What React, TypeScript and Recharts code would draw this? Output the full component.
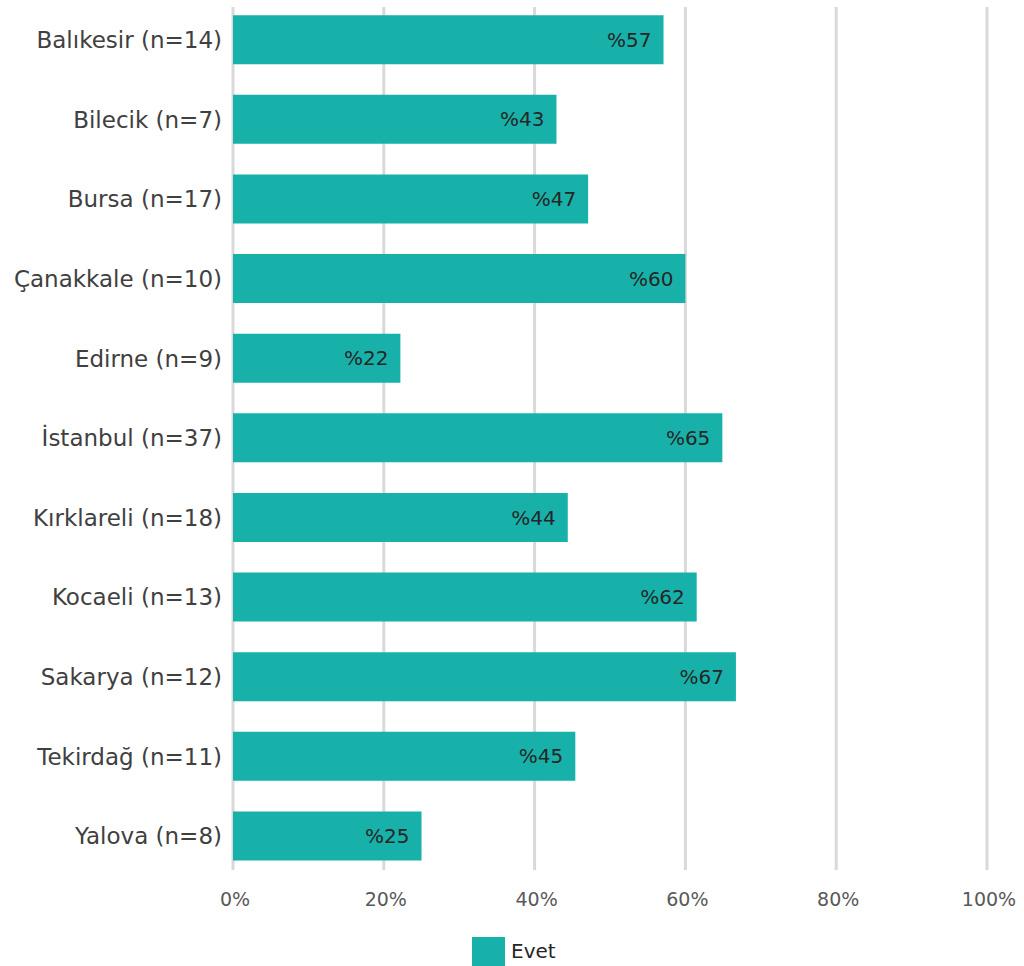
import { BarChart, Bar, XAxis, YAxis, CartesianGrid, Legend, LabelList } from 'recharts'

const provinces = [
  'Balıkesir (n=14)',
  'Bilecik (n=7)',
  'Bursa (n=17)',
  'Çanakkale (n=10)',
  'Edirne (n=9)',
  'İstanbul (n=37)',
  'Kırklareli (n=18)',
  'Kocaeli (n=13)',
  'Sakarya (n=12)',
  'Tekirdağ (n=11)',
  'Yalova (n=8)',
]

const evet = [57.1, 42.9, 47.1, 60, 22.2, 64.9, 44.4, 61.5, 66.7, 45.4, 25]

const xTicks = [0, 20, 40, 60, 80, 100]

const FONT = '"DejaVu Sans", sans-serif'
const TEAL = '#17b1aa'

const data = provinces.map((name, i) => ({ name, evet: evet[i] }))

function LegendBox() {
  return (
    <div style={{ position: 'relative', height: 50, fontFamily: FONT }}>
      <div style={{ position: 'absolute', left: 472, top: 21, width: 33, height: 29, background: TEAL }} />
      <span style={{ position: 'absolute', left: 511, top: 23, fontSize: 20, color: '#262626' }}>Evet</span>
    </div>
  )
}

export default function App() {
  return (
    <div>
      <style>{`body{margin:0}`}</style>
      <BarChart
        width={1024}
        height={966}
        data={data}
        layout="vertical"
        margin={{ top: 0, right: 37, bottom: 0, left: 0 }}
        barCategoryGap="19%"
      >
        <CartesianGrid horizontal={false} stroke="#d9d9d9" strokeWidth={3} y={7} height={863} />
        <XAxis
          type="number"
          domain={[0, 100]}
          ticks={xTicks}
          tickFormatter={(v: number) => `${v}%`}
          axisLine={false}
          tickLine={false}
          tickMargin={11}
          height={40}
          tick={{ fontSize: 19, fill: '#595959', fontFamily: FONT, dx: 2 }}
        />
        <YAxis
          type="category"
          dataKey="name"
          width={233}
          axisLine={false}
          tickLine={false}
          tickMargin={5}
          tick={{ fontSize: 23, fill: '#404040', fontFamily: FONT }}
        />
        <Legend verticalAlign="bottom" content={<LegendBox />} wrapperStyle={{ left: 0, width: 1024 }} />
        <Bar dataKey="evet" fill={TEAL} isAnimationActive={false}>
          <LabelList
            dataKey="evet"
            position="insideRight"
            offset={12}
            formatter={(v: number) => `%${Math.round(v)}`}
            style={{ fontSize: 20, fill: '#262626', fontFamily: FONT }}
          />
        </Bar>
      </BarChart>
    </div>
  )
}
